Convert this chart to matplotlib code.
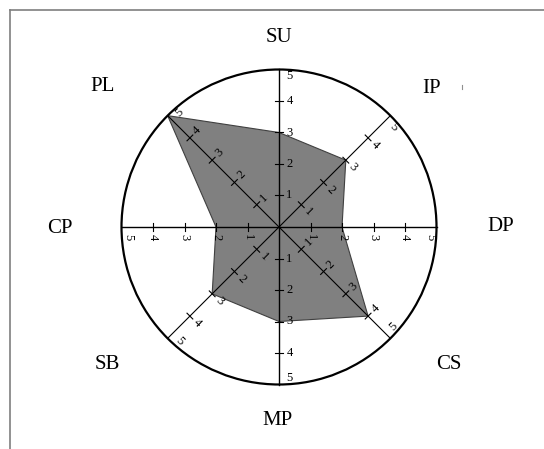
import numpy as np
from matplotlib import pyplot as plt
from matplotlib.lines import Line2D
from matplotlib.patches import Circle, Polygon

plt.rcParams['font.family'] = ['Liberation Serif', 'DejaVu Serif']

# scores on the eight criteria, clockwise from the top
categories = ['SU', 'IP', 'DP', 'CS', 'MP', 'SB', 'CP', 'PL']
values = [3, 3, 2, 4, 3, 3, 2, 5]
angles_deg = [90, 45, 0, -45, -90, -135, 180, 135]
# direction of the full ruler line each half-axis belongs to
ruler_deg = [90, 45, 0, 135, 90, 45, 0, 135]
tick_values = [1, 2, 3, 4, 5]
r_max = 5

# where the category names sit (in axis units)
label_pos = [(0.0, 6.0), (4.85, 4.4), (7.05, 0.0), (5.4, -4.35),
             (-0.05, -6.15), (-5.45, -4.35), (-6.95, -0.05), (-5.6, 4.45)]

scale = 31.5  # pixels per unit
W, H = 544, 449
cx, cy = 279, 227

fig = plt.figure(figsize=(W / 100, H / 100), dpi=100)
ax = fig.add_axes([0, 0, 1, 1])
ax.set_xlim(-cx / scale, (W - cx) / scale)
ax.set_ylim(-(H - cy) / scale, cy / scale)
ax.set_aspect('equal')
ax.axis('off')

theta = np.radians(angles_deg)
px = np.array(values) * np.cos(theta)
py = np.array(values) * np.sin(theta)
ax.add_patch(Polygon(np.column_stack([px, py]), closed=True, facecolor='#808080',
                     edgecolor='#404040', linewidth=0.8, zorder=1))

ax.add_patch(Circle((0, 0), r_max, fill=False, edgecolor='black', linewidth=1.6, zorder=3))

for ang, rul in zip(angles_deg, ruler_deg):
    t = np.radians(ang)
    d = np.array([np.cos(t), np.sin(t)])
    lw = 1.0 if ang % 90 == 0 else 0.8
    ax.plot([0, r_max * d[0]], [0, r_max * d[1]], color='black', linewidth=lw, zorder=2)
    # perpendicular direction used for ticks and labels
    p = np.radians(rul - 90)
    n = np.array([np.cos(p), np.sin(p)])
    for v in tick_values:
        pos = v * d
        if v < r_max:
            ax.plot([pos[0] - 0.13 * n[0], pos[0] + 0.13 * n[0]],
                    [pos[1] - 0.13 * n[1], pos[1] + 0.13 * n[1]],
                    color='black', linewidth=0.8, zorder=2)
        lp = pos - (0.2 * d if v == r_max else 0) + 0.33 * n
        ax.text(lp[0], lp[1], str(v), fontsize=9, rotation=rul - 90,
                rotation_mode='anchor', ha='center', va='center', zorder=4)

for name, (lx, ly) in zip(categories, label_pos):
    ax.text(lx, ly, name, fontsize=15, ha='center', va='center')

# frame edge along the top and left
fx, fy = 9.5 / W, 1 - 9.5 / H
fig.add_artist(Line2D([fx, fx], [0, fy], transform=fig.transFigure, color='#7f7f7f', linewidth=1.2))
fig.add_artist(Line2D([fx, 1], [fy, fy], transform=fig.transFigure, color='#7f7f7f', linewidth=1.2))
fig.add_artist(Line2D([461.5 / W, 461.5 / W], [1 - 89 / H, 1 - 85 / H],
                      transform=fig.transFigure, color='#909090', linewidth=0.8))

plt.savefig('out.png', dpi=100)
plt.close()
